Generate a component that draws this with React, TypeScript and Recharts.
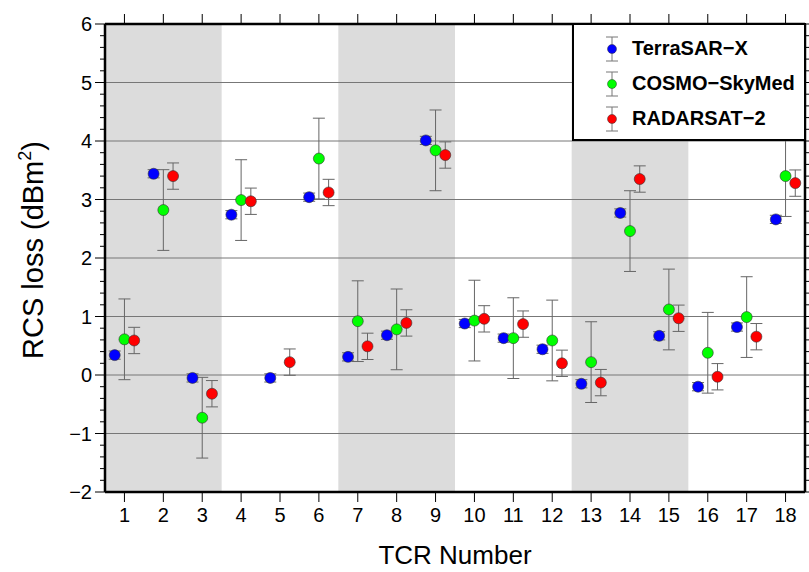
import React from 'react';
import {
  ScatterChart,
  Scatter,
  XAxis,
  YAxis,
  ErrorBar,
  ReferenceArea,
  ReferenceLine,
  Legend,
} from 'recharts';

// TCR numbers and per-sensor RCS loss (dBm^2) with error half-widths
const tcrNumbers = [1, 2, 3, 4, 5, 6, 7, 8, 9, 10, 11, 12, 13, 14, 15, 16, 17, 18];
const terraValues = [0.34, 3.44, -0.05, 2.74, -0.05, 3.04, 0.31, 0.68, 4.01, 0.88, 0.63, 0.44, -0.15, 2.77, 0.67, -0.2, 0.82, 2.66];
const cosmoValues = [0.61, 2.82, -0.73, 2.99, null, 3.7, 0.92, 0.78, 3.84, 0.93, 0.63, 0.59, 0.22, 2.46, 1.12, 0.38, 0.99, 3.4];
const radarValues = [0.59, 3.4, -0.32, 2.97, 0.22, 3.12, 0.49, 0.89, 3.76, 0.96, 0.87, 0.2, -0.13, 3.35, 0.97, -0.03, 0.655, 3.28];
const terraErr = 0.07;
const cosmoErr = 0.69;
const radarErr = 0.225;

const shadedBands = [[0.5, 3.5], [6.5, 9.5], [12.5, 15.5]];
const gridValues = [-1, 0, 1, 2, 3, 4, 5];
const yMinorTicks = [
  -2, -1.8, -1.6, -1.4, -1.2, -1, -0.8, -0.6, -0.4, -0.2, 0, 0.2, 0.4, 0.6, 0.8, 1, 1.2, 1.4, 1.6, 1.8, 2,
  2.2, 2.4, 2.6, 2.8, 3, 3.2, 3.4, 3.6, 3.8, 4, 4.2, 4.4, 4.6, 4.8, 5, 5.2, 5.4, 5.6, 5.8, 6,
];

// COSMO is plotted on the mirrored (top/right) axes, which share the same domain
const series = [
  { name: 'TerraSAR\u2212X', values: terraValues, err: terraErr, offset: -0.25, color: '#0000ff', xId: 'bottom', yId: 'left' },
  { name: 'COSMO\u2212SkyMed', values: cosmoValues, err: cosmoErr, offset: 0, color: '#00ff00', xId: 'top', yId: 'right' },
  { name: 'RADARSAT\u22122', values: radarValues, err: radarErr, offset: 0.25, color: '#ff0000', xId: 'bottom', yId: 'left' },
];

const FONT = '"Liberation Sans", Arial, Helvetica, sans-serif';

const buildPoints = (values: (number | null)[], err: number, offset: number) =>
  tcrNumbers
    .map((n, i) => ({ x: n + offset, y: values[i], err }))
    .filter((p) => p.y !== null);

const Dot = (color: string) => (props: any) => {
  const { cx, cy } = props;
  if (cx == null || cy == null) return null;
  return <circle cx={cx} cy={cy} r={5.5} fill={color} stroke="#333" strokeWidth={0.6} />;
};

const fmt = (v: number) => (v < 0 ? '\u2212' + Math.abs(v) : String(v));

const TopTick = (props: any) => {
  const { x, y } = props;
  return <line x1={x} y1={y - 10} x2={x} y2={y} stroke="#000" strokeWidth={1} />;
};

const RightTick = (props: any) => {
  const { x, y } = props;
  return <line x1={x} y1={y} x2={x + 5} y2={y} stroke="#000" strokeWidth={1} />;
};

const LeftTick = (props: any) => {
  const { x, y, payload } = props;
  const v = payload.value;
  const major = Math.abs(v - Math.round(v)) < 1e-6;
  return (
    <g>
      <line x1={x - (major ? 10 : 5)} y1={y} x2={x} y2={y} stroke="#000" strokeWidth={1} />
      {major && (
        <text x={x - 13} y={y} dy="0.36em" textAnchor="end" fontSize={20} fontFamily={FONT} fill="#000">
          {fmt(Math.round(v))}
        </text>
      )}
    </g>
  );
};

const YLabel = () => (
  <text
    transform="translate(43, 250) rotate(-90)"
    textAnchor="middle"
    fontSize={29}
    fontFamily={FONT}
    fill="#000"
  >
    RCS loss (dBm<tspan fontSize={18} dy={-12}>2</tspan>
    <tspan dy={12}>)</tspan>
  </text>
);

const LegendBox = () => (
  <div
    style={{
      width: 234,
      height: 118,
      border: '2.5px solid #000',
      background: '#fff',
      boxSizing: 'border-box',
      fontFamily: FONT,
    }}
  >
    {series.map((s, i) => (
      <div key={s.name} style={{ display: 'flex', alignItems: 'center', height: 35, marginTop: i === 0 ? 6 : 0 }}>
        <svg width={58} height={30} style={{ display: 'block' }}>
          <line x1={38} y1={3} x2={38} y2={27} stroke="#777" strokeWidth={1} />
          <line x1={32} y1={3} x2={44} y2={3} stroke="#777" strokeWidth={1} />
          <line x1={32} y1={27} x2={44} y2={27} stroke="#777" strokeWidth={1} />
          <circle cx={38} cy={15} r={4.5} fill={s.color} stroke="#333" strokeWidth={0.5} />
        </svg>
        <span style={{ fontWeight: 'bold', fontSize: 20, color: '#000' }}>{s.name}</span>
      </div>
    ))}
  </div>
);

export default function App() {
  return (
    <div style={{ position: 'absolute', left: 0, top: 0, width: 809, height: 572, background: '#fff' }}>
      <ScatterChart width={809} height={572} margin={{ top: 0, right: 0, bottom: 0, left: 0 }}>
        {shadedBands.map(([a, b]) => (
          <ReferenceArea
            key={a}
            xAxisId="bottom"
            yAxisId="left"
            x1={a}
            x2={b}
            y1={-2}
            y2={6}
            fill="#dcdcdc"
            fillOpacity={1}
            stroke="none"
            ifOverflow="hidden"
          />
        ))}
        {gridValues.map((v) => (
          <ReferenceLine key={v} xAxisId="bottom" yAxisId="left" y={v} stroke="#777" strokeWidth={1} />
        ))}
        <XAxis
          xAxisId="bottom"
          type="number"
          dataKey="x"
          domain={[0.5, 18.5]}
          ticks={tcrNumbers}
          allowDataOverflow
          height={80}
          tickSize={10}
          tickMargin={6}
          tick={{ fontSize: 20, fontFamily: FONT, fill: '#000' }}
          tickLine={{ stroke: '#000', strokeWidth: 1 }}
          axisLine={{ stroke: '#000', strokeWidth: 2.5 }}
          label={{ value: 'TCR Number', position: 'insideBottom', offset: 8, fontSize: 26, fontFamily: FONT, fill: '#000' }}
        />
        <XAxis
          xAxisId="top"
          orientation="top"
          type="number"
          dataKey="x"
          domain={[0.5, 18.5]}
          ticks={tcrNumbers}
          allowDataOverflow
          height={24}
          tickSize={0}
          tickMargin={0}
          tickLine={false}
          tick={<TopTick />}
          axisLine={{ stroke: '#000', strokeWidth: 2.5 }}
        />
        <YAxis
          yAxisId="left"
          type="number"
          dataKey="y"
          domain={[-2, 6]}
          ticks={yMinorTicks}
          interval={0}
          allowDataOverflow
          width={105}
          tickSize={0}
          tickMargin={0}
          tickLine={false}
          tick={<LeftTick />}
          axisLine={{ stroke: '#000', strokeWidth: 2.5 }}
          label={<YLabel />}
        />
        <YAxis
          yAxisId="right"
          orientation="right"
          type="number"
          dataKey="y"
          domain={[-2, 6]}
          ticks={yMinorTicks}
          interval={0}
          allowDataOverflow
          width={4}
          tickSize={0}
          tickMargin={0}
          tickLine={false}
          tick={<RightTick />}
          axisLine={{ stroke: '#000', strokeWidth: 2.5 }}
        />
        <Legend
          layout="horizontal"
          align="center"
          verticalAlign="middle"
          wrapperStyle={{ position: 'absolute', left: 572, top: 23, width: 234, height: 118 }}
          content={() => <LegendBox />}
        />
        {series.map((s) => (
          <Scatter
            key={s.name}
            name={s.name}
            xAxisId={s.xId}
            yAxisId={s.yId}
            data={buildPoints(s.values, s.err, s.offset)}
            fill={s.color}
            shape={Dot(s.color)}
            isAnimationActive={false}
          >
            <ErrorBar dataKey="err" direction="y" width={6} stroke="#666" strokeWidth={1} isAnimationActive={false} />
          </Scatter>
        ))}
      </ScatterChart>
    </div>
  );
}
